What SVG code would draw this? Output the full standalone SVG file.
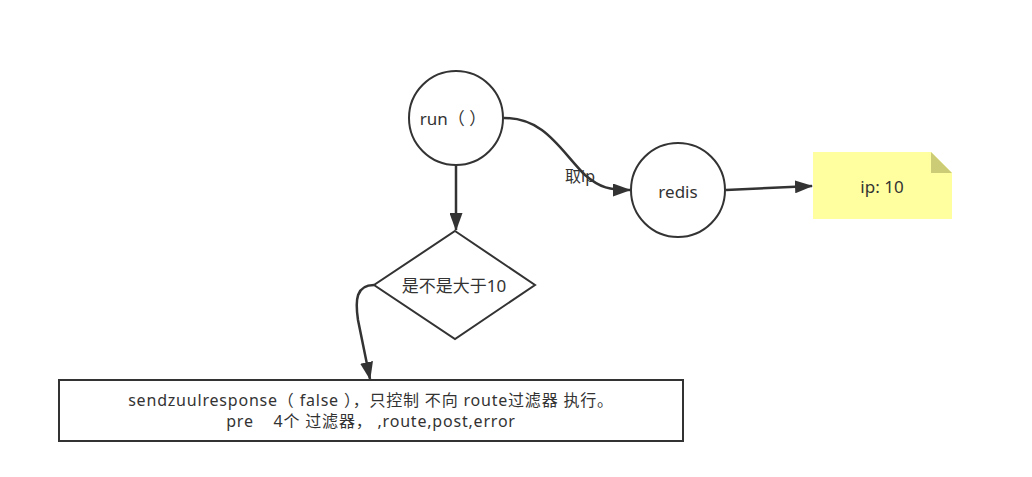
<svg xmlns="http://www.w3.org/2000/svg" width="1032" height="477" viewBox="0 0 1032 477">
<style>
.shape{fill:#fff;stroke:#333;stroke-width:2}
.t{font-family:"Noto Sans","Noto Sans CJK SC",sans-serif;font-size:17px;fill:#333;text-anchor:middle;dominant-baseline:central}
.s{font-size:16px;letter-spacing:0.8px}
.c{fill:none;stroke:#333;stroke-width:2.5}
</style>
<defs>
<marker id="ah" markerWidth="18" markerHeight="13" refX="17" refY="6.5" orient="auto" markerUnits="userSpaceOnUse" viewBox="0 0 18 13">
<path d="M0,0 L18,6.5 L0,13 Z" fill="#333"/>
</marker>
</defs>
<rect width="1032" height="477" fill="#fff"/>
<g id="connectors">
<path class="c" d="M456,165 L456,230" marker-end="url(#ah)"/>
<path class="c" d="M504,118 C545,118 560,150 585,175 C600,188 610,190 630,190" marker-end="url(#ah)"/>
<path class="c" d="M726,190 L812,186" marker-end="url(#ah)"/>
<path class="c" d="M374,285 C356,285 355,300 358,320 L370,379" marker-end="url(#ah)"/>
<text class="t" x="580" y="176" style="font-size:16px">取ip</text>
</g>
<g id="run">
<circle class="shape" cx="456" cy="118" r="47"/>
<text class="t" x="453" y="118">run（  ）</text>
</g>
<g id="redis">
<circle class="shape" cx="678" cy="190" r="47"/>
<text class="t" x="678" y="191">redis</text>
</g>
<g id="note">
<path d="M813,152 L931,152 L952,173 L952,219 L813,219 Z" fill="#ffff9f"/>
<path d="M931,152 L952,173 L931,173 Z" fill="#cccc77"/>
<text class="t" x="882" y="186">ip: 10</text>
</g>
<g id="decision">
<path class="shape" d="M455,231 L535,285 L455,339 L374,285 Z"/>
<text class="t" x="454" y="285">是不是大于10</text>
</g>
<g id="action">
<rect class="shape" x="59" y="380" width="624" height="61"/>
<text class="t s" x="371" y="400" xml:space="preserve">sendzuulresponse（ false ），只控制 不向 route过滤器 执行。</text>
<text class="t s" x="371" y="421" xml:space="preserve">pre    4个 过滤器， ,route,post,error</text>
</g>
</svg>
